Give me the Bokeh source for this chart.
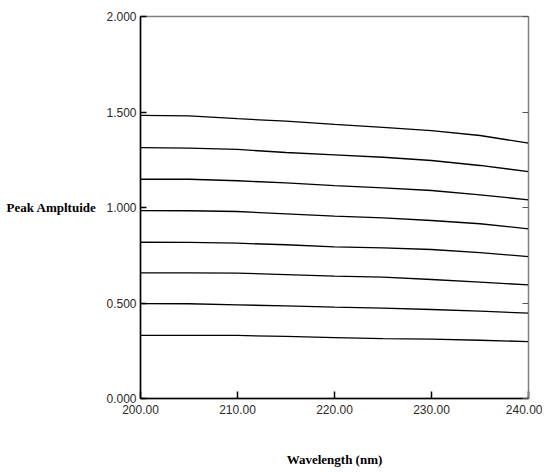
from bokeh.plotting import figure
from bokeh.models import Range1d, FixedTicker, PrintfTickFormatter, LinearAxis
from bokeh.embed import file_html
from bokeh.resources import INLINE

wavelength = [200, 205, 210, 215, 220, 225, 230, 235, 240]
s1 = [1.482, 1.480, 1.465, 1.452, 1.435, 1.420, 1.403, 1.377, 1.337]
s2 = [1.313, 1.311, 1.304, 1.288, 1.276, 1.263, 1.246, 1.220, 1.188]
s3 = [1.148, 1.148, 1.140, 1.129, 1.115, 1.103, 1.089, 1.066, 1.040]
s4 = [0.984, 0.983, 0.979, 0.967, 0.955, 0.946, 0.932, 0.915, 0.888]
s5 = [0.818, 0.817, 0.813, 0.805, 0.794, 0.789, 0.780, 0.764, 0.743]
s6 = [0.658, 0.658, 0.656, 0.649, 0.641, 0.635, 0.623, 0.609, 0.595]
s7 = [0.497, 0.496, 0.490, 0.485, 0.478, 0.473, 0.466, 0.457, 0.447]
s8 = [0.330, 0.330, 0.330, 0.325, 0.319, 0.314, 0.311, 0.305, 0.298]
series = [s1, s2, s3, s4, s5, s6, s7, s8]
x_ticks = [200, 210, 220, 230, 240]
y_ticks = [0.0, 0.5, 1.0, 1.5, 2.0]

p = figure(width=542, height=470, output_backend="svg", toolbar_location=None,
           x_range=Range1d(200, 240), y_range=Range1d(0, 2),
           min_border_left=140, min_border_right=14, min_border_top=16, min_border_bottom=72)
p.grid.visible = False
p.outline_line_color = "#808080"
p.outline_line_width = 1.5
p.background_fill_color = "white"
p.border_fill_color = "white"

for s in series:
    p.line(wavelength, s, line_color="black", line_width=1.3)

tick_font = "Liberation Sans"
xa = p.xaxis[0]
xa.ticker = FixedTicker(ticks=x_ticks)
xa.formatter = PrintfTickFormatter(format="%.2f")
xa.major_tick_in = 7
xa.major_tick_out = 0
xa.minor_tick_line_color = None
xa.axis_line_color = "black"
xa.axis_line_width = 1.5
xa.major_tick_line_width = 1.5
xa.major_label_text_font = tick_font
xa.major_label_text_font_size = "12px"
xa.major_label_text_color = "#2a2a2a"
xa.major_label_standoff = 6
xa.axis_label = "Wavelength (nm)"
xa.axis_label_text_font = "Liberation Serif"
xa.axis_label_text_font_style = "bold"
xa.axis_label_text_font_size = "13px"
xa.axis_label_text_color = "black"
xa.axis_label_standoff = 35

ya = p.yaxis[0]
ya.ticker = FixedTicker(ticks=y_ticks)
ya.formatter = PrintfTickFormatter(format="%.3f")
ya.major_tick_in = 6
ya.major_tick_out = 0
ya.minor_tick_line_color = None
ya.axis_line_color = "black"
ya.axis_line_width = 1.5
ya.major_tick_line_width = 1.5
ya.major_label_text_font = tick_font
ya.major_label_text_font_size = "12px"
ya.major_label_text_color = "#2a2a2a"
ya.major_label_standoff = 4
ya.axis_label = "Peak Ampltuide"
ya.axis_label_orientation = "horizontal"
ya.axis_label_text_font = "Liberation Serif"
ya.axis_label_text_font_style = "bold"
ya.axis_label_text_font_size = "13px"
ya.axis_label_text_color = "black"
ya.axis_label_standoff = 7

ra = LinearAxis(ticker=FixedTicker(ticks=y_ticks),
                major_label_overrides={0.0: "", 0.5: "", 1.0: "", 1.5: "", 2.0: ""},
                major_tick_in=6, major_tick_out=0, minor_tick_line_color=None,
                axis_line_color="#808080", major_tick_line_color="#555555")
p.add_layout(ra, "right")

open("out.html", "w").write(file_html(p, INLINE))
